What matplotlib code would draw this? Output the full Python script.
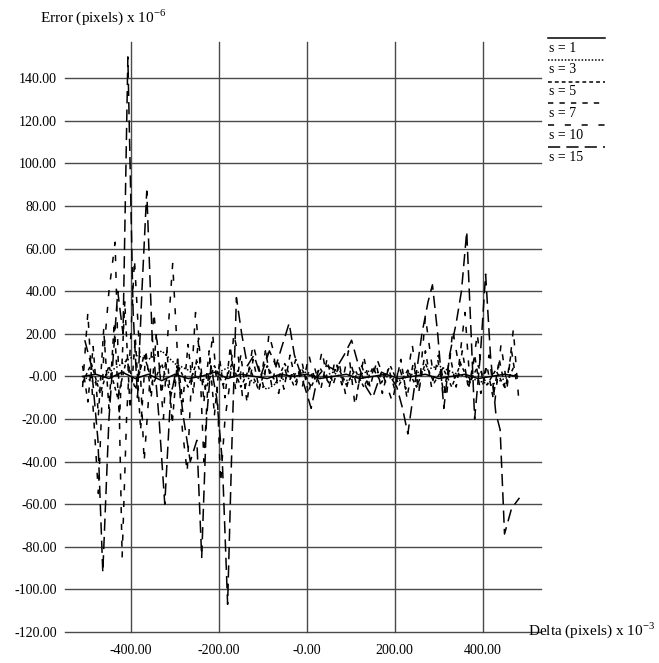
import matplotlib
matplotlib.use("Agg")
import matplotlib.pyplot as plt
from matplotlib.lines import Line2D

plt.rcParams['font.family'] = ['Liberation Serif', 'DejaVu Serif']
plt.rcParams['mathtext.fontset'] = 'custom'
plt.rcParams['mathtext.rm'] = 'Liberation Serif'

# ---------------- data ----------------
labels = ["s = 1", "s = 3", "s = 5", "s = 7", "s = 10", "s = 15"]

x1 = [-510, -480, -450, -420, -390, -360, -330, -300, -270, -240, -210, -180, -150, -120, -90, -60, -30, 0,
      30, 60, 90, 120, 150, 180, 210, 240, 270, 300, 330, 360, 390, 420, 450, 480]
y1 = [0, 1, -1, 2, -1, 1, -2, 1, -1, 0, 2, -1, 1, 0, -1, 1, 0, 1,
      -1, 0, 1, -1, 0, 1, -1, 0, 1, -1, 0, 1, -1, 0, 1, 0]

x3 = [-510, -480, -450, -420, -390, -360, -330, -300, -270, -240, -210, -180, -150, -120, -90, -60, -30, 0,
      30, 60, 90, 120, 150, 180, 210, 240, 270, 300, 330, 360, 390, 420, 450, 480]
y3 = [0, -3, 2, 6, 10, 8, 12, 6, 3, -2, 1, 4, 2, -3, -6, -2, 1, 2,
      -1, 2, -2, 1, 3, 0, -2, 1, 3, 5, 2, 0, -2, -4, -1, 1]

x5 = [-510, -490, -470, -450, -430, -410, -390, -370, -350, -330, -310, -290, -270, -250, -230, -210, -190,
      -170, -150, -130, -110, -90, -70, -50, -30, -10, 10, 30, 50, 70, 90, 110, 130, 150, 170, 190, 210,
      230, 250, 270, 290, 310, 330, 350, 370, 390, 410, 430, 450, 470]
y5 = [-3, 6, -8, 5, -10, 8, -6, 10, -4, 6, -8, 4, -5, 7, -6, 5, -4,
      6, -5, 4, -6, 5, -3, 6, -4, 3, -5, 4, -3, 5, -4, 3, -5, 4, -3, 5, -4,
      3, -5, 6, -3, 4, -5, 6, -3, 5, -4, 3, -5, 4]

x7 = [-510, -498, -486, -474, -462, -450, -438, -426, -414, -402, -390, -378, -366, -354, -342, -330, -318,
      -306, -294, -282, -270, -258, -246, -234, -222, -210, -198, -186, -174, -162, -150, -136, -122, -108,
      -94, -80, -66, -52, -38, -24, -10, 4, 18, 32, 46, 60, 74, 88, 102, 116, 130, 144, 158, 172, 186, 200,
      214, 228, 242, 256, 270, 284, 298, 312, 326, 340, 354, 368, 382, 396, 410, 424, 438, 452, 466, 478]
y7 = [5, -12, 14, -18, 22, -15, 25, -20, 35, -15, 18, -25, 12, -10, 20, -8, 12,
      -22, 8, -12, 15, -8, 18, -12, 12, -18, 8, -10, 14, -6, 10, -12, 8, -6,
      12, -4, 8, -6, 10, -4, 6, -8, 4, -6, 8, -4, 6, -8, 5, -6, 9, -5, 6, -8, 4, -6,
      8, -10, 6, -6, 12, -5, 8, -8, 10, -5, 12, -6, 10, -8, 5, -10, 8, -6, 12, -4]

x10 = [-510, -498, -486, -474, -462, -450, -436, -428, -420, -410, -400, -392, -380, -370, -358, -348, -338,
       -326, -316, -305, -294, -283, -272, -262, -253, -244, -234, -224, -214, -204, -196, -186, -176, -166,
       -156, -146, -134, -122, -110, -98, -86, -76, -64, -52, -40, -25, -10, 5, 20, 35, 50, 65, 80, 95, 110,
       125, 140, 160, 180, 195, 210, 225, 240, 255, 270, 285, 300, 318, 332, 346, 360, 372, 388, 400, 415,
       428, 442, 456, 470, 482]
y10 = [-5, 30, -15, -55, 10, 40, 63, 0, -85, -20, 20, 55, 10, -40, -5, 30, 10,
       -20, 20, 53, 10, -25, -45, 0, 30, 10, -40, 0, 20, -5, -50, -20, -5, 20,
       10, -10, 0, 15, 5, -5, 20, 12, -8, 5, -3, 8, -5, 10, -3, 12, -6, 8, -4, 12, -14,
       5, -4, 8, -3, -12, 5, -6, 15, -8, 28, 5, 10, -10, 22, 5, 30, -5, 20, -2, 10,
       -12, 15, -5, 22, -10]

x15 = [-505, -490, -475, -464, -450, -430, -418, -407, -395, -385, -375, -364, -352, -336, -323, -310, -295,
       -280, -265, -250, -239, -228, -218, -205, -192, -180, -170, -160, -148, -135, -120, -105, -85, -70,
       -55, -40, -28, -15, 0, 10, 25, 45, 65, 85, 102, 118, 135, 150, 170, 190, 205, 218, 230, 245, 262,
       276, 286, 298, 312, 325, 340, 352, 364, 374, 382, 395, 407, 418, 430, 440, 450, 466, 484]
y15 = [17, 5, -30, -92, -20, 40, 20, 150, 30, -10, 40, 87, 20, -20, -60, -10, 5,
       -20, -40, -30, -85, -20, 5, -10, -40, -107, -30, 37, 20, 5, 10, 0, 12, 5,
       15, 25, 10, 2, -8, -15, 0, 5, 3, 10, 17, 5, -5, -10, 2, 0, -5, -15, -27, -5, 20,
       35, 43, 20, -15, 10, 25, 40, 68, 20, -20, 10, 48, 10, -17, -25, -74, -62, -57]

series_x = [x1, x3, x5, x7, x10, x15]
series_y = [y1, y3, y5, y7, y10, y15]

x_ticks = [-400, -200, 0, 200, 400]
x_tick_labels = ["-400.00", "-200.00", "-0.00", "200.00", "400.00"]
y_ticks = [-120, -100, -80, -60, -40, -20, 0, 20, 40, 60, 80, 100, 120, 140]
y_tick_labels = ["-120.00", "-100.00", "-80.00", "-60.00", "-40.00", "-20.00", "-0.00",
                 "20.00", "40.00", "60.00", "80.00", "100.00", "120.00", "140.00"]

# ---------------- styles ----------------
styles = ['-', (0, (1, 1.2)), (0, (2.5, 2)), (0, (3.5, 4)), (0, (4, 7)), (0, (8, 4))]

W, H = 659, 663
fig = plt.figure(figsize=(W / 100, H / 100), dpi=100)
ax = fig.add_axes([65 / W, 1 - 632 / H, (541 - 65) / W, (632 - 42) / H])
ax.set_xlim(-550, 533)
ax.set_ylim(-120, 157)

for xv in x_ticks:
    ax.axvline(xv, color='#4a4a4a', lw=1.0, zorder=1, clip_on=False)
for yv in y_ticks:
    ax.axhline(yv, color='#4a4a4a', lw=1.0, zorder=1, clip_on=False)

for xs, ys, ls in zip(series_x, series_y, styles):
    ax.plot(xs, ys, color='black', lw=1.1, linestyle=ls, zorder=3)

for s in ax.spines.values():
    s.set_visible(False)
ax.set_xticks(x_ticks)
ax.set_xticklabels(x_tick_labels)
ax.set_yticks(y_ticks)
ax.set_yticklabels(y_tick_labels)
ax.tick_params(length=0, labelsize=10, pad=6)
ax.tick_params(axis='x', pad=9)

fig.text(40 / W, 1 - 17 / H, r'Error (pixels) x 10$^{\mathregular{-6}}$', fontsize=11,
         ha='left', va='center')
fig.text(528 / W, 1 - 630 / H, r'Delta (pixels) x 10$^{\mathregular{-3}}$', fontsize=11,
         ha='left', va='center')

# legend: line sample above each label
for i, (lab, ls) in enumerate(zip(labels, styles)):
    yl = 38 + i * 21.8
    fig.add_artist(Line2D([548 / W, 605 / W], [1 - yl / H, 1 - yl / H], color='black',
                          lw=1.1, linestyle=ls, transform=fig.transFigure))
    fig.text(549 / W, 1 - (yl + 10) / H, lab, fontsize=10, ha='left', va='center')

fig.savefig('out.png', dpi=100)
